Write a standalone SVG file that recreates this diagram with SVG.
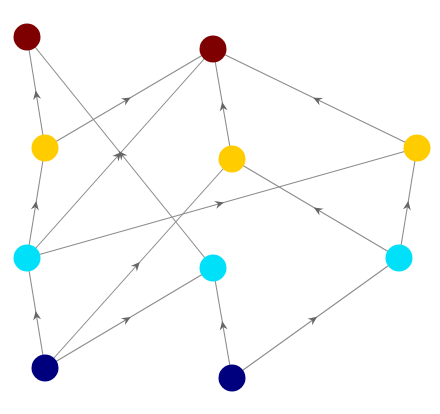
<svg xmlns="http://www.w3.org/2000/svg" width="440" height="414" viewBox="0 0 440 414">
<defs>
<style>
.e{fill:none;stroke:#8c8c8c;stroke-width:1.1;marker-mid:url(#arr)}
.l5{fill:#7f0000}.l4{fill:#ffcc00}.l3{fill:#00e0f8}.l2{fill:#00007f}
</style>
<marker id="arr" viewBox="-10 -5 12 10" markerWidth="12" markerHeight="10" refX="0" refY="0" orient="auto" markerUnits="userSpaceOnUse">
<path d="M2,0 L-7,-4 L-4,0 L-7,4 Z" fill="#666"/>
</marker>
</defs>
<rect width="440" height="414" fill="#fff"/>
<g id="edges">
<path class="e" d="M45,148 L36,92.5 L27,37"/>
<path class="e" d="M45,148 L129,98.5 L213,49"/>
<path class="e" d="M27,258 L120,153.5 L213,49"/>
<path class="e" d="M27,258 L36,203 L45,148"/>
<path class="e" d="M27,258 L222,203 L417,148"/>
<path class="e" d="M45,368 L36,313 L27,258"/>
<path class="e" d="M45,368 L129,318 L213,268"/>
<path class="e" d="M45,368 L138.5,263.5 L232,159"/>
<path class="e" d="M213,268 L120,152.5 L27,37"/>
<path class="e" d="M232,378 L222.5,323 L213,268"/>
<path class="e" d="M232,378 L315.5,318 L399,258"/>
<path class="e" d="M399,258 L408,203 L417,148"/>
<path class="e" d="M399,258 L315.5,208.5 L232,159"/>
<path class="e" d="M232,159 L222.5,104 L213,49"/>
<path class="e" d="M417,148 L315,98.5 L213,49"/>
</g>
<g id="nA"><circle class="l5" cx="27" cy="37" r="13.5"/></g>
<g id="nB"><circle class="l5" cx="213" cy="49" r="13.5"/></g>
<g id="nC"><circle class="l4" cx="45" cy="148" r="13.5"/></g>
<g id="nD"><circle class="l4" cx="232" cy="159" r="13.5"/></g>
<g id="nE"><circle class="l4" cx="417" cy="148" r="13.5"/></g>
<g id="nF"><circle class="l3" cx="27" cy="258" r="13.5"/></g>
<g id="nG"><circle class="l3" cx="213" cy="268" r="13.5"/></g>
<g id="nH"><circle class="l3" cx="399" cy="258" r="13.5"/></g>
<g id="nI"><circle class="l2" cx="45" cy="368" r="13.5"/></g>
<g id="nJ"><circle class="l2" cx="232" cy="378" r="13.5"/></g>
</svg>
